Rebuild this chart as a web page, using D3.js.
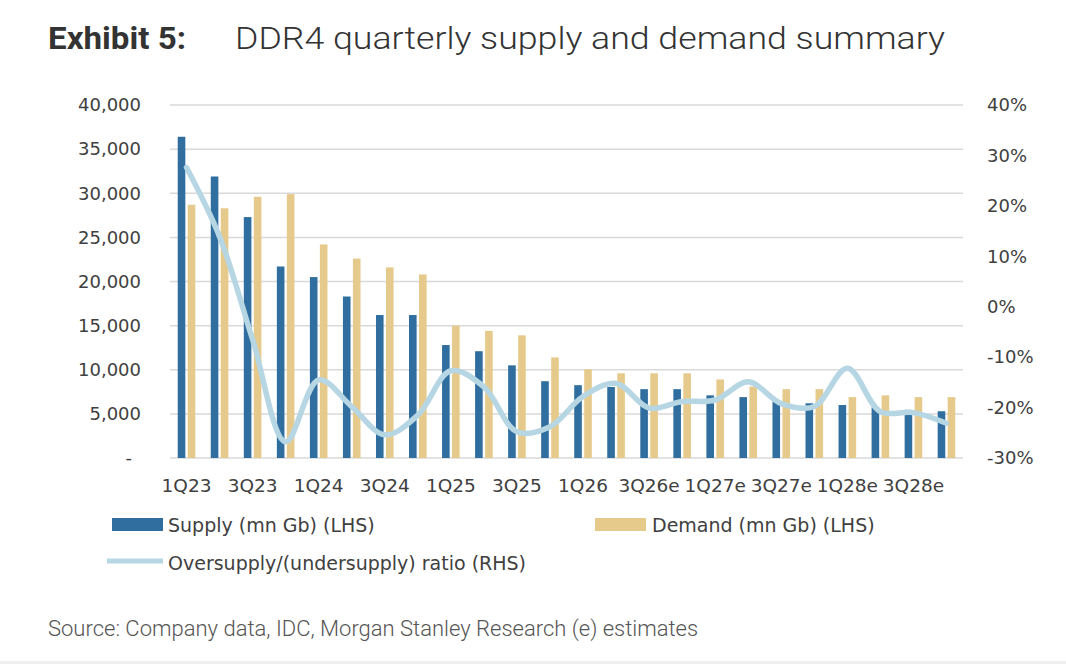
<!DOCTYPE html>
<html>
<head>
<meta charset="utf-8">
<script src="https://cdn.jsdelivr.net/npm/d3@7/dist/d3.min.js"></script>
<style>
  html, body { margin: 0; padding: 0; background: #ffffff; }
  svg { display: block; }
</style>
</head>
<body>
<svg id="chart" width="1066" height="664"></svg>
<script>
// ---------------- data ----------------
const quarters = ["1Q23","2Q23","3Q23","4Q23","1Q24","2Q24","3Q24","4Q24",
                  "1Q25","2Q25","3Q25","4Q25","1Q26","2Q26e","3Q26e","4Q26e",
                  "1Q27e","2Q27e","3Q27e","4Q27e","1Q28e","2Q28e","3Q28e","4Q28e"];
const supply = [36400, 31900, 27300, 21700, 20500, 18300, 16200, 16200,
                12800, 12100, 10500, 8700, 8250, 8050, 7800, 7800,
                7100, 6900, 6400, 6200, 6000, 5750, 5450, 5300];
const demand = [28700, 28300, 29600, 29900, 24200, 22600, 21600, 20800,
                15000, 14400, 13900, 11400, 10050, 9600, 9600, 9600,
                8900, 8100, 7800, 7800, 6900, 7100, 6900, 6900];
const ratio  = [27.6, 13.9, -6.5, -26.8, -14.5, -19.8, -25.4, -21.5,
                -12.7, -15.9, -24.8, -23.8, -17.8, -15.2, -20.1, -18.8,
                -18.5, -14.9, -19.2, -19.8, -12.2, -20.8, -21.0, -23.1];
const leftTicks  = [0, 5000, 10000, 15000, 20000, 25000, 30000, 35000, 40000];
const rightTicks = [-30, -20, -10, 0, 10, 20, 30, 40];
const seriesNames = ["Supply (mn Gb) (LHS)", "Demand (mn Gb) (LHS)", "Oversupply/(undersupply) ratio (RHS)"];

// ---------------- styles ----------------
const C_SUPPLY = "#2f6e9e";
const C_DEMAND = "#e6ca8c";
const C_LINE   = "#b6d6e3";
const C_GRID   = "#d9d9d9";
const C_TEXT   = "#404040";
const AXFONT   = "'DejaVu Sans', sans-serif";

const svg = d3.select("#chart");
const plot = { left: 170, right: 963, top: 105, bottom: 458 };

// scales
const x = d3.scaleBand().domain(quarters).range([plot.left, plot.right]).padding(0);
const pairW = 17.6;
const xi = d3.scaleBand().domain(["supply","demand"]).range([0, pairW]).paddingInner(0.24);
const yL = d3.scaleLinear().domain([0, 40000]).range([plot.bottom, plot.top]);
const yR = d3.scaleLinear().domain([-30, 40]).range([plot.bottom, plot.top]);
const cx = q => x(q) + x.bandwidth() / 2;

// bottom strip
svg.append("rect").attr("x", 0).attr("y", 661).attr("width", 1066).attr("height", 3).attr("fill", "#efefef");

// title
svg.append("text").attr("x", 48).attr("y", 49)
  .attr("font-family", "Roboto, sans-serif").attr("font-weight", 700).attr("font-size", 31)
  .attr("textLength", 138).attr("lengthAdjust", "spacingAndGlyphs")
  .attr("fill", "#333333").text("Exhibit 5:");
svg.append("text").attr("x", 235).attr("y", 49)
  .attr("font-family", "Roboto, sans-serif").attr("font-weight", 300).attr("font-size", 31.5)
  .attr("textLength", 710).attr("lengthAdjust", "spacingAndGlyphs")
  .attr("fill", "#333333").text("DDR4 quarterly supply and demand summary");

// gridlines
svg.append("g").selectAll("line").data(leftTicks).join("line")
  .attr("x1", plot.left).attr("x2", plot.right)
  .attr("y1", d => yL(d)).attr("y2", d => yL(d))
  .attr("stroke", C_GRID).attr("stroke-width", 1.5);

// left axis
const gL = svg.append("g").attr("transform", `translate(141,0)`)
  .call(d3.axisLeft(yL).tickValues(leftTicks).tickSize(0).tickPadding(0)
        .tickFormat(d => d === 0 ? "-" : d3.format(",")(d)));
gL.select(".domain").remove();
gL.selectAll("text").attr("font-family", AXFONT).attr("font-size", 18).attr("fill", C_TEXT)
  .attr("dx", d => d === 0 ? -9 : 0);

// right axis
const gR = svg.append("g").attr("transform", `translate(987,0)`)
  .call(d3.axisRight(yR).tickValues(rightTicks).tickSize(0).tickPadding(0)
        .tickFormat(d => d + "%"));
gR.select(".domain").remove();
gR.selectAll("text").attr("font-family", AXFONT).attr("font-size", 18).attr("fill", C_TEXT);

// bottom axis
const gB = svg.append("g").attr("transform", `translate(0,${plot.bottom})`)
  .call(d3.axisBottom(x).tickValues(quarters.filter((q, i) => i % 2 === 0)).tickSize(0).tickPadding(21));
gB.select(".domain").remove();
gB.selectAll("text").attr("font-family", AXFONT).attr("font-size", 18.5).attr("fill", C_TEXT);

// bars
const off = (x.bandwidth() - pairW) / 2;
svg.append("g").selectAll("rect").data(quarters).join("rect")
  .attr("x", q => x(q) + off + xi("supply")).attr("width", xi.bandwidth())
  .attr("y", (q, i) => yL(supply[i])).attr("height", (q, i) => yL(0) - yL(supply[i]))
  .attr("fill", C_SUPPLY);
svg.append("g").selectAll("rect").data(quarters).join("rect")
  .attr("x", q => x(q) + off + xi("demand")).attr("width", xi.bandwidth())
  .attr("y", (q, i) => yL(demand[i])).attr("height", (q, i) => yL(0) - yL(demand[i]))
  .attr("fill", C_DEMAND);

// ratio line
const line = d3.line().x((d, i) => cx(quarters[i])).y(d => yR(d)).curve(d3.curveCatmullRom.alpha(0.5));
svg.append("path").datum(ratio).attr("d", line)
  .attr("fill", "none").attr("stroke", C_LINE).attr("stroke-width", 5.5)
  .attr("stroke-linecap", "round").attr("stroke-linejoin", "round");

// legend
const lg = svg.append("g").attr("font-family", AXFONT).attr("font-size", 19).attr("fill", C_TEXT);
lg.append("rect").attr("x", 112).attr("y", 518).attr("width", 51).attr("height", 13).attr("fill", C_SUPPLY);
lg.append("text").attr("x", 168).attr("y", 532).text(seriesNames[0]);
lg.append("rect").attr("x", 595).attr("y", 518).attr("width", 51).attr("height", 13).attr("fill", C_DEMAND);
lg.append("text").attr("x", 652).attr("y", 532).text(seriesNames[1]);
lg.append("line").attr("x1", 107).attr("x2", 163).attr("y1", 561).attr("y2", 561)
  .attr("stroke", C_LINE).attr("stroke-width", 5);
lg.append("text").attr("x", 168).attr("y", 570).text(seriesNames[2]);

// source
svg.append("text").attr("x", 48).attr("y", 636)
  .attr("font-family", "Roboto, sans-serif").attr("font-weight", 300).attr("font-size", 22)
  .attr("fill", "#555555").text("Source: Company data, IDC, Morgan Stanley Research (e) estimates");
</script>
</body>
</html>
